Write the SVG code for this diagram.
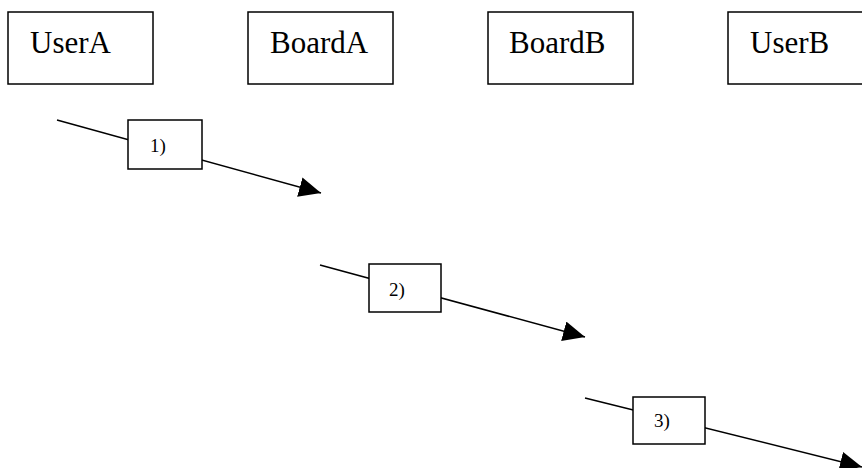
<svg xmlns="http://www.w3.org/2000/svg" width="862" height="468" viewBox="0 0 862 468">
<style>
.box{fill:#fff;stroke:#000;stroke-width:1.5}
.t{font-family:"Liberation Serif",serif;font-size:31px;fill:#000}
.l{font-family:"Liberation Serif",serif;font-size:19px;fill:#000}
.c{stroke:#000;stroke-width:1.5;fill:none;marker-end:url(#ah)}
</style>
<defs>
<marker id="ah" markerUnits="userSpaceOnUse" viewBox="0 0 22 20" markerWidth="22" markerHeight="20" refX="22" refY="10" orient="auto">
<path d="M0,0 L22,10 L0,20 z" fill="#000"/>
</marker>
</defs>
<rect width="862" height="468" fill="#fff"/>
<g id="userA"><rect class="box" x="8" y="12" width="145" height="72"/><text class="t" x="30" y="53">UserA</text></g>
<g id="boardA"><rect class="box" x="248" y="12" width="145" height="72"/><text class="t" x="270" y="53">BoardA</text></g>
<g id="boardB"><rect class="box" x="488" y="12" width="145" height="72"/><text class="t" x="509" y="53">BoardB</text></g>
<g id="userB"><rect class="box" x="728" y="12" width="145" height="72"/><text class="t" x="750" y="53">UserB</text></g>
<g id="connectors">
<line class="c" x1="57" y1="120" x2="321" y2="193"/>
<line class="c" x1="320" y1="265" x2="585" y2="337"/>
<line class="c" x1="585" y1="398" x2="862" y2="467"/>
</g>
<g id="msg1"><rect class="box" x="128" y="120" width="74" height="49"/><text class="l" x="150" y="152">1)</text></g>
<g id="msg2"><rect class="box" x="369" y="264" width="72" height="48"/><text class="l" x="389" y="296">2)</text></g>
<g id="msg3"><rect class="box" x="633" y="397" width="72" height="47"/><text class="l" x="654" y="427">3)</text></g>
</svg>
